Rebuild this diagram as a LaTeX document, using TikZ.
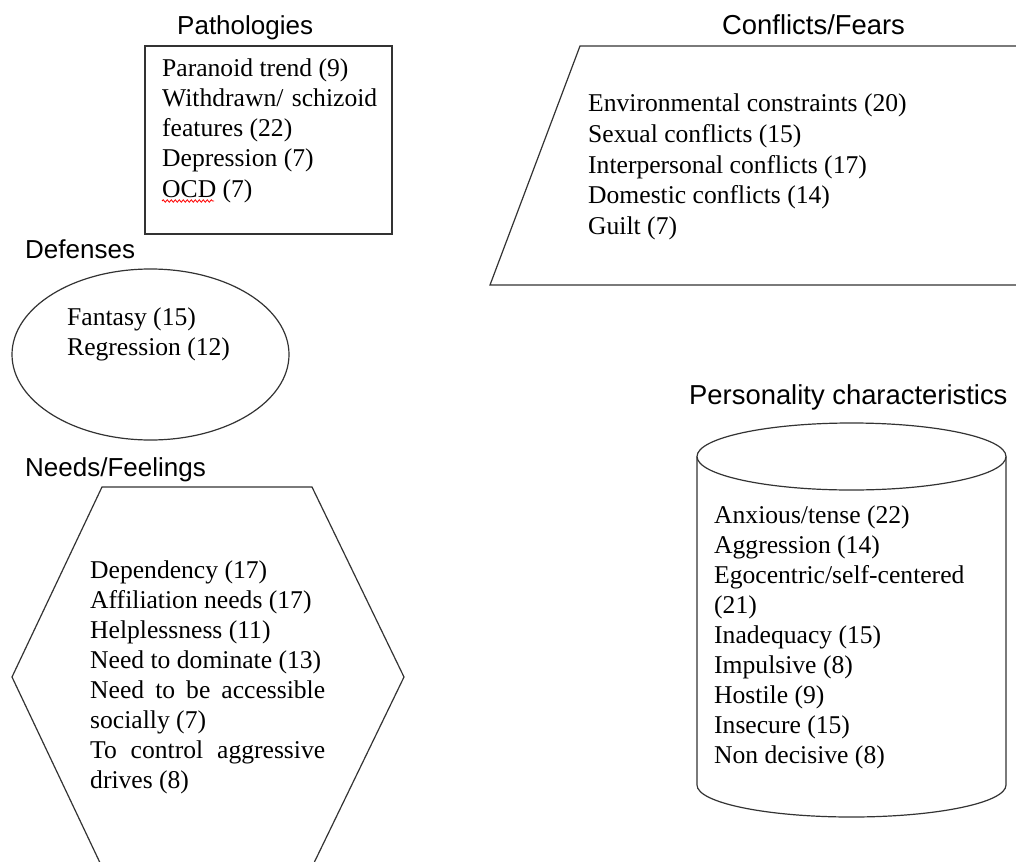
\documentclass[tikz,border=0pt]{standalone}
\usepackage{fontspec}
\setmainfont{Liberation Serif}
\newfontfamily\titlefont{Liberation Sans}
\usetikzlibrary{decorations.pathmorphing}
\tikzset{
  body/.style={anchor=base west, inner sep=0pt, font=\fontsize{25.6}{30}\selectfont},
  ttl/.style={anchor=base west, inner sep=0pt, font=\titlefont\fontsize{26}{30}\selectfont},
  ttlw/.style={anchor=base west, inner sep=0pt, font=\titlefont\fontsize{27.4}{30}\selectfont},
  shapeline/.style={draw=black!80, line width=1.2pt},
}
\begin{document}
\begin{tikzpicture}[x=1pt,y=-1pt]
\useasboundingbox (0,0) rectangle (1016,861);
\clip (0,0) rectangle (1016,861);
\fill[white] (0,0) rectangle (1016,861);

% Pathologies
\node[ttl] (tpath) at (177,35) {Pathologies};
\draw[shapeline] (145,46) rectangle (392,234);
\foreach \t [count=\i] in {{Paranoid trend (9)},{\hbox to 215pt{Withdrawn/\hfill schizoid}},{features (22)},{Depression (7)},{OCD (7)}}
  \node[body] (p\i) at (162,{77+30*(\i-1)}) {\t};
\draw[red, line width=0.8pt, decorate, decoration={snake, amplitude=1.2pt, segment length=4pt}] (162,201) -- (214,201);

% Conflicts/Fears
\node[ttlw] (tconf) at (722,35) {Conflicts/Fears};
\draw[shapeline] (580,46) -- (1130,46) -- (1040,285) -- (490,285) -- cycle;
\foreach \t [count=\i] in {{Environmental constraints (20)},{Sexual conflicts (15)},{Interpersonal conflicts (17)},{Domestic conflicts (14)},{Guilt (7)}}
  \node[body] (c\i) at (588,{112+30.5*(\i-1)}) {\t};

% Defenses
\node[ttl] (tdef) at (25,258) {Defenses};
\draw[shapeline] (150.5,354.5) ellipse [x radius=138.5, y radius=85.5];
\node[body] (d1) at (67,325) {Fantasy (15)};
\node[body] (d2) at (67,355) {Regression (12)};

% Needs/Feelings
\node[ttl] (tneed) at (25,476) {Needs/Feelings};
\draw[shapeline] (102,487) -- (312,487) -- (404,677) -- (312,867) -- (102,867) -- (12,677) -- cycle;
\foreach \t [count=\i] in {{Dependency (17)},{Affiliation needs (17)},{Helplessness (11)},{Need to dominate (13)},{\hbox to 235pt{Need\hfill to\hfill be\hfill accessible}},{socially (7)},{\hbox to 235pt{To\hfill control\hfill aggressive}},{drives (8)}}
  \node[body] (n\i) at (90,{578+30*(\i-1)}) {\t};

% Personality characteristics
\node[ttlw] (tpers) at (689,404) {Personality characteristics};
\draw[shapeline] (851.5,456.5) ellipse [x radius=154.5, y radius=33.5];
\draw[shapeline] (697,456.5) -- (697,785) arc[start angle=180, end angle=0, x radius=154.5, y radius=32] -- (1006,456.5);
\foreach \t [count=\i] in {{Anxious/tense (22)},{Aggression (14)},{Egocentric/self-centered},{(21)},{Inadequacy (15)},{Impulsive (8)},{Hostile (9)},{Insecure (15)},{Non decisive (8)}}
  \node[body] (q\i) at (714,{523+30*(\i-1)}) {\t};
\end{tikzpicture}
\end{document}
